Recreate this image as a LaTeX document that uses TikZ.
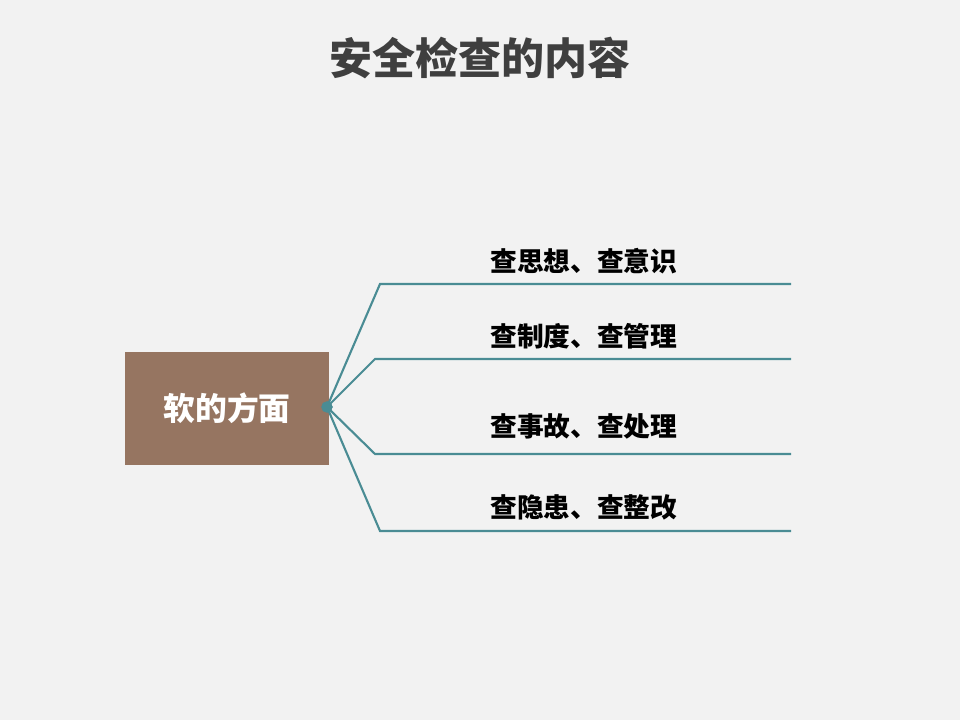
\documentclass[tikz,border=0pt]{standalone}
\usepackage{fontspec}
\newfontfamily\cjk{Noto Sans CJK SC}
\usepackage{xcolor}
\usetikzlibrary{positioning,calc}

\definecolor{bgGray}{HTML}{F2F2F2}
\definecolor{boxBrown}{HTML}{967561}
\definecolor{lineTeal}{HTML}{4A8C94}
\definecolor{titleGray}{HTML}{3F3F3F}

\begin{document}
\begin{tikzpicture}[x=0.025cm, y=-0.025cm,
  item/.style={anchor=west, inner sep=0pt, text=black, font=\cjk\bfseries\fontsize{19}{22}\selectfont},
  branch/.style={draw=lineTeal, line width=1.5pt}]
  % Background
  \fill[bgGray] (0, 0) rectangle (960, 720);

  % Title
  \node[inner sep=0pt, text=titleGray, font=\cjk\bfseries\fontsize{30.6}{34}\selectfont] (title) at (480, 58) {安全检查的内容};

  % Root box and hub dot
  \node[fill=boxBrown, inner sep=0pt, minimum width=5.1cm, minimum height=2.825cm, text=white,
        font=\cjk\bfseries\fontsize{22.6}{26}\selectfont] (root) at (227, 408.5) {软的方面};
  \node[circle, fill=lineTeal, inner sep=0pt, minimum size=0.28cm] (hub) at (327, 407) {};

  % Elbows and line ends
  \coordinate (k1) at (380, 284);  \coordinate (e1) at (791, 284);
  \coordinate (k2) at (375, 359);  \coordinate (e2) at (791, 359);
  \coordinate (k3) at (375, 454);  \coordinate (e3) at (791, 454);
  \coordinate (k4) at (380, 531);  \coordinate (e4) at (791, 531);

  % Branches
  \draw[branch] (hub.center) -- (k1) -- (e1);
  \draw[branch] (hub.center) -- (k2) -- (e2);
  \draw[branch] (hub.center) -- (k3) -- (e3);
  \draw[branch] (hub.center) -- (k4) -- (e4);
  \node[circle, fill=lineTeal, inner sep=0pt, minimum size=0.28cm] at (hub) {};

  % Items
  \node[item] (i1) at (490, 261) {查思想、查意识};
  \node[item] (i2) at (490, 336) {查制度、查管理};
  \node[item] (i3) at (490, 426) {查事故、查处理};
  \node[item] (i4) at (490, 507) {查隐患、查整改};
\end{tikzpicture}
\end{document}
